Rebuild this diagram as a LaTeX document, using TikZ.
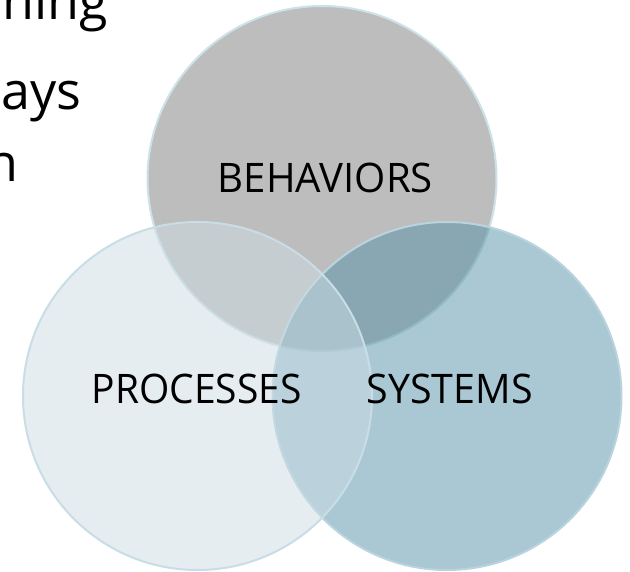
\documentclass[tikz,border=0pt]{standalone}
\usepackage{fontspec}
\setmainfont{Open Sans}
\definecolor{behavfill}{RGB}{189,189,189}
\definecolor{procfill}{RGB}{205,221,229}
\definecolor{sysfill}{RGB}{85,147,169}
\definecolor{ringtop}{RGB}{205,225,233}
\definecolor{ringleft}{RGB}{200,221,230}
\definecolor{ringright}{RGB}{185,212,222}
\begin{document}
\begin{tikzpicture}[x=1pt,y=-1pt,
  ring/.style={line width=2pt},
  vlabel/.style={inner sep=0pt, anchor=base, text=black},
  bodyline/.style={font=\fontsize{52}{60}\selectfont, inner sep=0pt, anchor=base east, text=black}]
\useasboundingbox (0,0) rectangle (630,572);
\clip (0,0) rectangle (630,572);
\fill[white] (0,0) rectangle (630,572);

% fragments of the slide body text, cut by the frame
\node[bodyline] (lineA) at (108,20) {ning};
\node[bodyline] (lineB) at (81.5,110) {ays};
\node[bodyline] (lineC) at (19,182) {n};

% the three sets
\draw[ring, draw=ringtop, fill=behavfill] (322,178.5) ellipse [x radius=174.5, y radius=172.5];
\draw[ring, draw=ringright, fill=sysfill, fill opacity=0.5] (447,396) ellipse [x radius=174.5, y radius=174];
\draw[ring, draw=ringleft, fill=procfill, fill opacity=0.5] (197.5,396) ellipse [x radius=174.5, y radius=174];

% set labels
\node[vlabel] (behaviors) at (325.5,193) {\resizebox{215pt}{29.5pt}{BEHAVIORS}};
\node[vlabel] (processes) at (196.7,404) {\resizebox{210pt}{29.5pt}{PROCESSES}};
\node[vlabel] (systems) at (449.7,404) {\resizebox{166pt}{29.5pt}{SYSTEMS}};
\end{tikzpicture}
\end{document}
